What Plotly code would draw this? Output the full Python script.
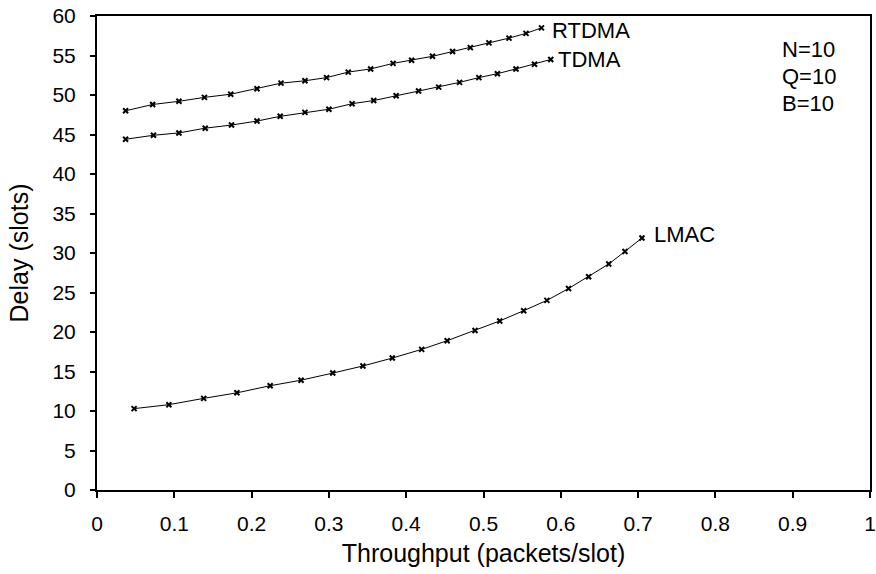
import plotly.graph_objects as go

rtdma_x = [0.037, 0.072, 0.106, 0.139, 0.173, 0.207, 0.238, 0.269, 0.297, 0.325, 0.354,
           0.383, 0.407, 0.434, 0.460, 0.483, 0.507, 0.533, 0.555, 0.575]
rtdma_y = [48.0, 48.8, 49.2, 49.7, 50.1, 50.8, 51.5, 51.8, 52.2, 52.9, 53.3,
           54.0, 54.4, 54.9, 55.5, 56.0, 56.6, 57.2, 57.8, 58.5]

tdma_x = [0.037, 0.073, 0.106, 0.140, 0.174, 0.207, 0.237, 0.269, 0.300, 0.330, 0.358,
          0.387, 0.416, 0.442, 0.469, 0.494, 0.518, 0.542, 0.566, 0.587]
tdma_y = [44.4, 44.9, 45.2, 45.8, 46.2, 46.7, 47.3, 47.8, 48.2, 48.9, 49.3,
          49.9, 50.5, 51.0, 51.6, 52.2, 52.7, 53.3, 53.9, 54.5]

lmac_x = [0.048, 0.093, 0.138, 0.181, 0.224, 0.264, 0.305, 0.344, 0.382, 0.420,
          0.453, 0.489, 0.521, 0.552, 0.582, 0.610, 0.636, 0.662, 0.683, 0.705]
lmac_y = [10.3, 10.8, 11.6, 12.3, 13.2, 13.9, 14.8, 15.7, 16.7, 17.8,
          18.9, 20.2, 21.4, 22.7, 24.0, 25.5, 27.0, 28.6, 30.2, 31.9]

series = [("RTDMA", rtdma_x, rtdma_y), ("TDMA", tdma_x, tdma_y), ("LMAC", lmac_x, lmac_y)]
label_shift = {"RTDMA": (9, -3), "TDMA": (5, 0), "LMAC": (10, 3)}
params = ["N=10", "Q=10", "B=10"]
params_y = [0.9287, 0.8719, 0.8147]

FONT = "Liberation Sans, Arial, Helvetica, sans-serif"

fig = go.Figure()
for name, xs, ys in series:
    fig.add_trace(go.Scatter(
        x=xs, y=ys, mode="lines+markers", name=name,
        line=dict(color="black", width=1),
        marker=dict(symbol="x-thin", size=5, color="black",
                    line=dict(color="black", width=2)),
        showlegend=False,
    ))
    dx, dy = label_shift[name]
    fig.add_annotation(x=xs[-1], y=ys[-1], text=name, showarrow=False,
                       xanchor="left", yanchor="middle", xshift=dx, yshift=dy,
                       font=dict(family=FONT, size=22, color="black"))

for txt, py in zip(params, params_y):
    fig.add_annotation(xref="paper", yref="paper", x=0.884, y=py,
                       text=txt, showarrow=False,
                       xanchor="left", yanchor="middle",
                       font=dict(family=FONT, size=22, color="black"))

fig.update_layout(
    width=876, height=574,
    margin=dict(l=97, r=6, t=16, b=84),
    plot_bgcolor="white", paper_bgcolor="white",
    font=dict(family=FONT, size=21, color="black"),
)
fig.update_xaxes(
    range=[0, 1], tickvals=[0, 0.1, 0.2, 0.3, 0.4, 0.5, 0.6, 0.7, 0.8, 0.9, 1],
    ticktext=["0", "0.1", "0.2", "0.3", "0.4", "0.5", "0.6", "0.7", "0.8", "0.9", "1"],
    showline=True, linecolor="black", linewidth=2, mirror=True,
    ticks="outside", ticklen=6, tickwidth=2, tickcolor="black",
    showgrid=False, zeroline=False,
    title=dict(text="Throughput (packets/slot)", standoff=10),
    ticklabelstandoff=8, automargin=False,
)
fig.update_yaxes(
    range=[0, 60], dtick=5,
    showline=True, linecolor="black", linewidth=2, mirror=True,
    ticks="outside", ticklen=5, tickwidth=2, tickcolor="black",
    showgrid=False, zeroline=False,
    title=dict(text="Delay (slots)", standoff=17),
    ticklabelstandoff=10, automargin=False,
)

fig.write_html("out.html")
